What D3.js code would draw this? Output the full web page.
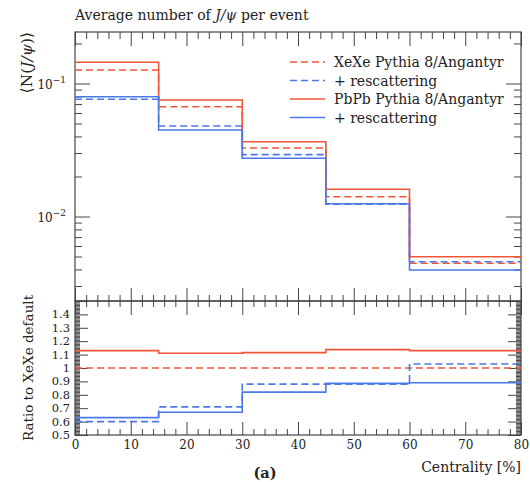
<!DOCTYPE html>
<html><head><meta charset="utf-8">
<script src="https://cdn.jsdelivr.net/npm/d3@7"></script>
<style>
html,body{margin:0;padding:0;background:#fff;}
svg{display:block;}
svg text{font-family:"DejaVu Serif",serif !important;fill:#222;}
</style></head>
<body>
<script>
// ---------- data ----------
const binEdges = [0, 15, 30, 45, 60, 80];
const xexeDefault   = [0.1263, 0.0669, 0.0327, 0.01409, 0.00445];
const xexeResc      = [0.0761, 0.0479, 0.0292, 0.01240, 0.00457];
const pbpbDefault   = [0.1443, 0.0752, 0.0365, 0.01601, 0.00498];
const pbpbResc      = [0.0796, 0.0447, 0.0274, 0.01248, 0.00396];
const ratioXeXe     = [1.0, 1.0, 1.0, 1.0, 1.0];
const ratioXeXeResc = [0.60, 0.71, 0.88, 0.88, 1.03];
const ratioPbPb     = [1.13, 1.11, 1.115, 1.137, 1.13];
const ratioPbPbResc = [0.63, 0.67, 0.82, 0.885, 0.89];
const seriesNames = ["XeXe Pythia 8/Angantyr", "+ rescattering", "PbPb Pythia 8/Angantyr", "+ rescattering"];
const xMajorTicks = [0, 10, 20, 30, 40, 50, 60, 70, 80];
const ratioTickLabels = ["0.5","0.6","0.7","0.8","0.9","1","1.1","1.2","1.3","1.4"];

// ---------- setup ----------
const W = 530, H = 482;
const FONT = "DejaVu Serif";
const RED = "#ef5638", BLUE = "#4a78e8", AX = "#444";
const svg = d3.select("body").append("svg").attr("width", W).attr("height", H)
  .attr("font-family", FONT);

const L = 75, R = 521, T = 32, MB = 301, RB = 435;
const x = d3.scaleLinear().domain([0, 80]).range([L, R]);
const yMain = d3.scaleLog().domain([0.002316, 0.2439]).range([MB, T]);
const yRatio = d3.scaleLinear().domain([0.5, 1.5]).range([RB, MB]);

const styleAxis = g => {
  g.attr("font-family", FONT);
  g.select(".domain").remove();
  g.selectAll(".tick line").attr("stroke", AX).attr("stroke-width", 1);
};

// x ticks
const xMinor = d3.range(0, 81, 2).filter(v => v % 10 !== 0);
function xTicks(y, dirDown, len, minorLen, withLabels) {
  const mk = dirDown ? d3.axisTop : d3.axisBottom;
  svg.append("g").attr("transform", `translate(0,${y})`)
    .call(mk(x).tickValues(xMajorTicks).tickSize(-len).tickSizeOuter(0).tickFormat(withLabels ? d3.format("d") : "").tickPadding(5))
    .call(styleAxis)
    .call(g => g.selectAll("text").attr("font-size", 12).attr("font-family", FONT).attr("fill", "#222"));
  svg.append("g").attr("transform", `translate(0,${y})`)
    .call(mk(x).tickValues(xMinor).tickSize(-minorLen).tickSizeOuter(0).tickFormat(""))
    .call(styleAxis);
}
xTicks(T, true, 14, 7, false);
xTicks(MB, false, 13, 6, false);
xTicks(MB, true, 14, 6, false);
xTicks(RB, false, 13, 6, true);

// main y ticks (log)
const yMajor = [0.01, 0.1];
const yMinorVals = [];
[-3, -2, -1].forEach(e => { for (let m = 2; m <= 9; m++) { const v = m * Math.pow(10, e); if (v >= 0.002316 && v <= 0.2439) yMinorVals.push(v); } });
[[L, -1], [R, 1]].forEach(([px, s]) => {
  svg.append("g").attr("transform", `translate(${px},0)`)
    .call(d3.axisLeft(yMain).tickValues(yMajor).tickSize(s * 15).tickFormat("")).call(styleAxis);
  svg.append("g").attr("transform", `translate(${px},0)`)
    .call(d3.axisLeft(yMain).tickValues(yMinorVals).tickSize(s * 7).tickFormat("")).call(styleAxis);
});
// main y labels 10^-1, 10^-2
yMajor.forEach(v => {
  const e = Math.round(Math.log10(v));
  const t = svg.append("text").attr("x", L - 9).attr("y", yMain(v) + 5).attr("text-anchor", "end")
    .attr("font-size", 12).attr("font-family", FONT);
  t.append("tspan").text("10");
  t.append("tspan").attr("dy", -6).attr("font-size", 9).text("\u2212" + Math.abs(e));
});

// ratio y ticks
const rMajor = d3.range(5, 16).map(i => i / 10);
const rMinor = d3.range(50, 151).filter(i => i % 10 !== 0).map(i => i / 100);
[[L, -1], [R, 1]].forEach(([px, s]) => {
  svg.append("g").attr("transform", `translate(${px},0)`)
    .call(d3.axisLeft(yRatio).tickValues(rMajor).tickSize(s * 13).tickFormat("")).call(styleAxis);
  svg.append("g").attr("transform", `translate(${px},0)`)
    .call(d3.axisLeft(yRatio).tickValues(rMinor).tickSize(s * 5).tickFormat("")).call(styleAxis);
});
ratioTickLabels.forEach(lbl => {
  svg.append("text").attr("x", L - 5).attr("y", yRatio(+lbl) + 4)
    .attr("text-anchor", "end").attr("font-size", 11.5).attr("font-family", FONT).text(lbl);
});

// frames
svg.append("rect").attr("x", L).attr("y", T).attr("width", R - L).attr("height", MB - T)
  .attr("fill", "none").attr("stroke", AX).attr("stroke-width", 1.2);
svg.append("rect").attr("x", L).attr("y", MB).attr("width", R - L).attr("height", RB - MB)
  .attr("fill", "none").attr("stroke", AX).attr("stroke-width", 1.2);

// step lines
function stepPts(vals) {
  const pts = [];
  vals.forEach((v, i) => { pts.push([binEdges[i], v]); pts.push([binEdges[i + 1], v]); });
  return pts;
}
const styles = [
  { color: RED, dash: "7,4" },
  { color: BLUE, dash: "7,4" },
  { color: RED, dash: null },
  { color: BLUE, dash: null }
];
function drawSeries(list, yS) {
  list.forEach((vals, i) => {
    const line = d3.line().x(d => x(d[0])).y(d => yS(d[1]));
    svg.append("path").attr("d", line(stepPts(vals)))
      .attr("fill", "none").attr("stroke", styles[i].color).attr("stroke-width", 1.6)
      .attr("stroke-dasharray", styles[i].dash);
  });
}
drawSeries([xexeDefault, xexeResc, pbpbDefault, pbpbResc], yMain);
drawSeries([ratioXeXe, ratioXeXeResc, ratioPbPb, ratioPbPbResc], yRatio);

// legend
const legY = [62, 80.5, 99, 117.5];
seriesNames.forEach((name, i) => {
  svg.append("line").attr("x1", 290).attr("x2", 325).attr("y1", legY[i]).attr("y2", legY[i])
    .attr("stroke", styles[i].color).attr("stroke-width", 1.6).attr("stroke-dasharray", styles[i].dash);
  svg.append("text").attr("x", 334).attr("y", legY[i] + 5).attr("font-size", 14)
    .attr("font-family", FONT).text(name);
});

// title
const title = svg.append("text").attr("x", L).attr("y", 20).attr("font-size", 14).attr("font-family", FONT);
title.append("tspan").text("Average number of ");
title.append("tspan").attr("font-style", "italic").text("J/\u03C8");
title.append("tspan").text(" per event");

// y labels
const yl = svg.append("text").attr("transform", `translate(32,${T}) rotate(-90)`)
  .attr("text-anchor", "end").attr("font-size", 15.5).attr("font-family", FONT);
yl.append("tspan").text("\u27E8N(");
yl.append("tspan").attr("font-style", "italic").text("J/\u03C8");
yl.append("tspan").text(")\u27E9");

svg.append("text").attr("transform", `translate(33,${(MB + RB) / 2}) rotate(-90)`)
  .attr("text-anchor", "middle").attr("font-size", 13.5).attr("font-family", FONT).text("Ratio to XeXe default");

// x label
svg.append("text").attr("x", R).attr("y", 472).attr("text-anchor", "end").attr("font-size", 14)
  .attr("font-family", FONT).text("Centrality [%]");
svg.append("text").attr("x", 265).attr("y", 478).attr("text-anchor", "middle").attr("font-size", 14.5)
  .attr("font-weight", "bold").attr("font-family", FONT).text("(a)");
</script>
</body></html>
